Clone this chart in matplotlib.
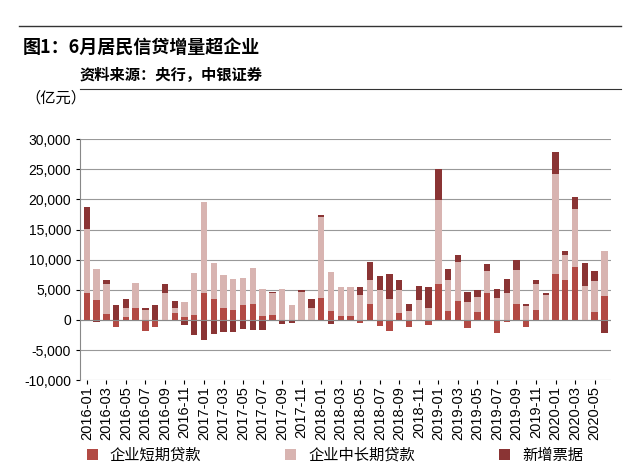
import matplotlib
matplotlib.use("Agg")
import matplotlib.pyplot as plt
import numpy as np

plt.rcParams['font.family'] = ['Noto Sans CJK SC', 'DejaVu Sans']

months = [f"{y}-{m:02d}" for y in range(2016, 2021) for m in range(1, 13)][:54]
short = [4500,3300,900,-1200,500,2000,-1900,-1100,0,1200,400,800,
         4400,3400,1900,1600,2500,2700,700,800,0,0,0,0,
         3700,1400,700,700,-500,2600,-1000,-1800,1100,-1200,0,-800,
         5900,1500,3100,-1400,1300,4500,-2200,-300,2600,-1200,1600,0,
         7700,6600,8700,0,1300,4000]
long_ = [10600,5100,5000,0,1400,4200,1600,0,4500,800,2600,7000,
         15200,6100,5500,5200,4400,5900,4400,3600,5100,2500,4600,2000,
         13300,6600,4700,4800,4100,4000,4900,3400,3800,1500,3300,2000,
         14000,5100,6500,2900,2500,3600,3700,4400,5600,2300,4300,4100,
         16600,4100,9700,5600,5200,7400]
bill = [3700,-400,700,2400,1600,0,300,2400,1500,1200,-900,-2500,
        -3300,-2300,-2000,-2000,-1500,-1600,-1600,300,-600,-500,300,1500,
        400,-700,0,0,1400,3000,2400,4200,1800,1100,2400,3400,
        5100,1800,1100,1800,1100,1100,1400,2400,1800,300,700,300,
        3600,700,2000,3900,1600,-2100]
ticks = months[::2]

names = ['企业短期贷款', '企业中长期贷款', '新增票据']
colors = ['#b24a44', '#d8b4b1', '#8a3434']

fig = plt.figure(figsize=(6.4, 4.67), dpi=100)
ax = fig.add_axes([0.125, 0.186, 0.83, 0.516])
x = np.arange(len(months))
pos = np.zeros(len(x)); neg = np.zeros(len(x))
for vals, c, n in zip([short, long_, bill], colors, names):
    v = np.array(vals, float)
    b = np.where(v >= 0, pos, neg)
    ax.bar(x, v, bottom=b, width=0.65, color=c, label=n, zorder=3)
    pos += np.where(v >= 0, v, 0); neg += np.where(v < 0, v, 0)

ax.set_ylim(-10000, 30000)
ax.set_yticks(range(-10000, 30001, 5000))
ax.set_yticklabels([f"{v:,}" for v in range(-10000, 30001, 5000)], fontsize=10,
                   fontfamily='Liberation Sans')
ax.set_xlim(-0.7, len(x) - 0.3)
ax.set_xticks(x[::2])
ax.set_xticklabels(ticks, rotation=90, fontsize=10.5, fontfamily='Liberation Sans')
ax.grid(axis='y', color='#999999', lw=0.8, zorder=0)
for s in ['top', 'right', 'bottom']:
    ax.spines[s].set_visible(False)
ax.spines['left'].set_color('#888888')
ax.axhline(0, color='#888888', lw=0.8, zorder=4)
ax.tick_params(axis='x', length=3, pad=1)
ax.tick_params(axis='y', length=3)
fig.text(0.04, 0.78, '（亿元）', fontsize=11)

fig.add_artist(plt.Line2D([0.03, 0.97], [0.945, 0.945], color='#333333', lw=1))
fig.text(0.035, 0.9, '图1：6月居民信贷增量超企业', fontsize=13, fontweight='bold', va='center')
fig.text(0.125, 0.84, '资料来源：央行，中银证券', fontsize=11, fontweight='bold', va='center')
fig.add_artist(plt.Line2D([0.125, 0.97], [0.81, 0.81], color='#333333', lw=0.8))

ax.legend(loc='upper center', bbox_to_anchor=(0.48, -0.22), ncol=3, frameon=False,
          fontsize=11, handlelength=0.7, handleheight=0.7, columnspacing=5.5)
fig.savefig('out.png', dpi=100)
